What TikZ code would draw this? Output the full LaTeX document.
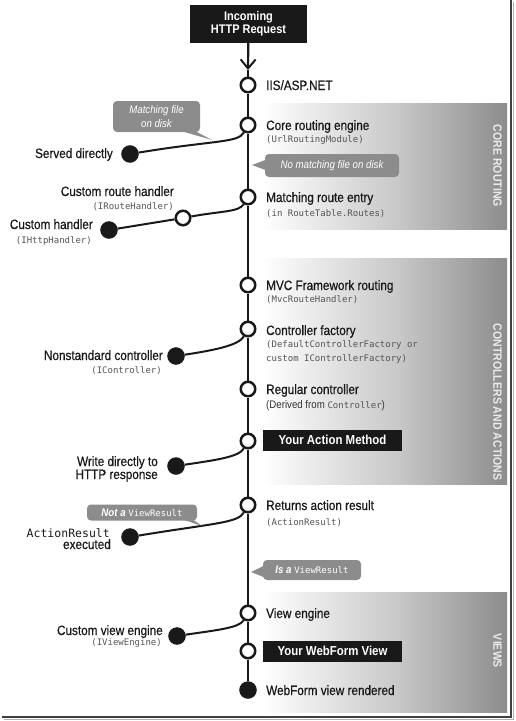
\documentclass[tikz,border=0pt]{standalone}
\usepackage{fontspec}
\setmainfont{Liberation Sans}[FakeStretch=0.88]
\newfontfamily\labfont{Liberation Sans}[FakeStretch=0.87, FakeBold=0.6]
\setmonofont{DejaVu Sans Mono}
\usetikzlibrary{arrows.meta}
\pgfdeclarelayer{back}
\pgfdeclarelayer{mid}
\pgfsetlayers{back,mid,main}
\definecolor{bubble}{gray}{0.55}
\definecolor{codegray}{gray}{0.33}
\definecolor{inkc}{gray}{0.1}
\tikzset{
  odot/.style={circle, draw=inkc, line width=2.5pt, fill=white, minimum size=14.5pt, inner sep=0pt},
  fdot/.style={circle, draw=inkc, fill=inkc, line width=1pt, minimum size=16.5pt, inner sep=0pt},
  spine/.style={draw=inkc, line width=2.2pt},
  conn/.style={draw=inkc, line width=2pt},
  lab/.style={font=\fontsize{13.5}{15}\labfont, text=inkc, inner sep=0pt},
  code/.style={font=\fontsize{9}{11}\ttfamily, text=codegray, inner sep=0pt},
  blackbox/.style={fill=inkc, text=white, font=\fontsize{13}{15}\selectfont\bfseries, minimum width=139pt, minimum height=21pt, inner sep=0pt},
  bubblebox/.style={fill=bubble, rounded corners=4pt, text=white, font=\fontsize{11}{13}\selectfont\itshape, inner sep=0pt, align=center},
  bandlab/.style={rotate=-90, text=white!92!black, font=\fontsize{12}{14}\selectfont\bfseries, inner sep=0pt},
}
\begin{document}
\begin{tikzpicture}[x=1pt,y=-1pt]
\useasboundingbox (0,0) rectangle (515,721);

% frame
\draw[black!30, line width=1.2pt] (513.5,2) -- (513.5,719.5) -- (4,719.5);
\draw[black!75, line width=1.6pt] (511,0) -- (511,717) -- (2,717);

% bands
\begin{pgfonlayer}{back}
\shade[left color=white, right color=black!22] (262,103) rectangle (400,229);
\shade[left color=black!22, right color=black!45] (400,103) rectangle (507,229);
\shade[left color=white, right color=black!22] (262,258) rectangle (400,484);
\shade[left color=black!22, right color=black!45] (400,258) rectangle (507,484);
\shade[left color=white, right color=black!22] (262,592) rectangle (400,712);
\shade[left color=black!22, right color=black!45] (400,592) rectangle (507,712);
\end{pgfonlayer}
\node[bandlab] (b1) at (497.5,166) {CORE ROUTING};
\node[bandlab] (b2) at (497.5,402) {CONTROLLERS AND ACTIONS};
\node[bandlab] (b3) at (497.5,651) {VIEWS};

% top box
\node[fill=inkc, text=white, font=\fontsize{12.5}{13.5}\selectfont\bfseries, align=center, minimum width=117pt, minimum height=38pt, inner sep=0pt] (req) at (248.5,24) {Incoming\\HTTP Request};
\coordinate (tip) at (248,70);

% spine nodes
\node[odot] (iis) at (248,85) {};
\node[odot] (core) at (248,125) {};
\node[odot] (mre) at (248,197) {};
\node[odot] (mvc) at (248,285) {};
\node[odot] (cf) at (248,329) {};
\node[odot] (rc) at (248,389) {};
\node[odot] (am) at (248,441) {};
\node[odot] (rar) at (248,505) {};
\node[odot] (ve) at (248,613) {};
\node[odot] (wv) at (248,651) {};
\node[fdot] (rend) at (248,690) {};

% side nodes
\node[fdot] (served) at (130,154) {};
\node[odot] (crh) at (183,218) {};
\node[fdot] (chd) at (109,230) {};
\node[fdot] (nsc) at (176,356) {};
\node[fdot] (wdr) at (176,466) {};
\node[fdot] (arx) at (130,537) {};
\node[fdot] (cve) at (177,636) {};

% connectors
\begin{pgfonlayer}{mid}
\draw[spine, -{Straight Barb[length=9pt, width=15pt, line width=2pt]}] (req) -- (tip);
\draw[spine] (tip) -- (iis) -- (core) -- (mre) -- (mvc) -- (cf) -- (rc) -- (am) -- (rar) -- (ve) -- (wv) -- (rend);
\draw[conn] (served) .. controls +(85,-14) and +(-10,18) .. (core);
\draw[conn] (chd) -- (crh);
\draw[conn] (crh) .. controls +(38,-7) and +(-9,15) .. (mre);
\draw[conn] (nsc) .. controls +(40,-6) and +(-9,16) .. (cf);
\draw[conn] (wdr) .. controls +(40,-6) and +(-9,16) .. (am);
\draw[conn] (arx) .. controls +(85,-14) and +(-10,18) .. (rar);
\draw[conn] (cve) .. controls +(40,-6) and +(-9,15) .. (ve);
\end{pgfonlayer}

% black boxes
\node[blackbox] (yam) at (332.5,440) {Your Action Method};
\node[blackbox] (ywv) at (332.5,651) {Your WebForm View};

% right labels
\node[lab, anchor=base west] (t-iis) at (266,90) {IIS/ASP.NET};
\node[lab, anchor=base west] (t-core) at (266,130) {Core routing engine};
\node[code, anchor=base west] (c-core) at (266,142.5) {(UrlRoutingModule)};
\node[lab, anchor=base west] (t-mre) at (266,202) {Matching route entry};
\node[code, anchor=base west] (c-mre) at (266,216.5) {(in RouteTable.Routes)};
\node[lab, anchor=base west] (t-mvc) at (266,290) {MVC Framework routing};
\node[code, anchor=base west] (c-mvc) at (266,302.5) {(MvcRouteHandler)};
\node[lab, anchor=base west] (t-cf) at (266,335) {Controller factory};
\node[code, anchor=base west] (c-cf1) at (266,347.5) {(DefaultControllerFactory or};
\node[code, anchor=base west] (c-cf2) at (266,361.5) {custom IControllerFactory)};
\node[lab, anchor=base west] (t-rc) at (266,394) {Regular controller};
\node[anchor=base west, inner sep=0pt, font=\fontsize{11}{13}\selectfont, text=black!80] (c-rc) at (266,408) {(Derived from {\ttfamily\fontsize{9}{11}\selectfont\color{codegray}Controller})};
\node[lab, anchor=base west] (t-rar) at (266,510) {Returns action result};
\node[code, anchor=base west] (c-rar) at (266,525.5) {(ActionResult)};
\node[lab, anchor=base west] (t-ve) at (266,618) {View engine};
\node[lab, anchor=base west] (t-rend) at (266,695) {WebForm view rendered};

% left labels
\node[lab, anchor=base east] (t-served) at (113,158) {Served directly};
\node[lab, anchor=base east] (t-crh) at (174,196) {Custom route handler};
\node[code, anchor=base east] (c-crh) at (174,209.5) {(IRouteHandler)};
\node[lab, anchor=base east] (t-chd) at (93,229) {Custom handler};
\node[code, anchor=base east] (c-chd) at (92,243.5) {(IHttpHandler)};
\node[lab, anchor=base east] (t-nsc) at (163,360) {Nonstandard controller};
\node[code, anchor=base east] (c-nsc) at (162,373.5) {(IController)};
\node[lab, anchor=base east] (t-wdr1) at (158,466) {Write directly to};
\node[lab, anchor=base east] (t-wdr2) at (158,479) {HTTP response};
\node[anchor=base east, inner sep=0pt, font=\fontsize{11.5}{13}\ttfamily, text=inkc] (t-arx1) at (110,537) {ActionResult};
\node[lab, anchor=base east] (t-arx2) at (111,549) {executed};
\node[lab, anchor=base east] (t-cve) at (163,635) {Custom view engine};
\node[code, anchor=base east] (c-cve) at (162,645.5) {(IViewEngine)};

% callouts
\node[bubblebox, minimum width=87pt, minimum height=31pt, font=\fontsize{11}{13.5}\selectfont\itshape] (cb1) at (156.5,116.5) {Matching file\\on disk};
\fill[bubble] (181,131) -- (212,140) -- (195,131) -- cycle;
\node[bubblebox, minimum width=134pt, minimum height=23pt] (cb2) at (332,165.5) {No matching file on disk};
\fill[bubble] (265.5,160) -- (252,165) -- (265.5,170) -- cycle;
\node[bubblebox, minimum width=110pt, minimum height=16pt] (cb3) at (142,512.5) {{\bfseries Not a} {\upshape\ttfamily\fontsize{9}{11}\selectfont ViewResult}};
\fill[bubble] (183,519.5) -- (202,526) -- (193,519.5) -- cycle;
\node[bubblebox, minimum width=98pt, minimum height=20pt] (cb4) at (312,570) {{\bfseries Is a} {\upshape\ttfamily\fontsize{9}{11}\selectfont ViewResult}};
\fill[bubble] (263.5,566) -- (251,572) -- (263.5,577) -- cycle;
\end{tikzpicture}
\end{document}
